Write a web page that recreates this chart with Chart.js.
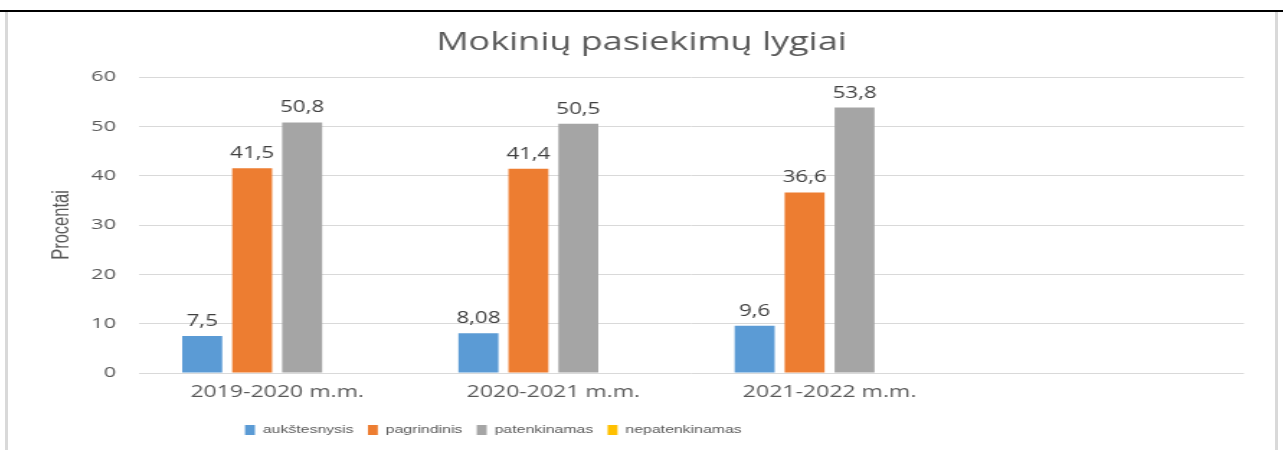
<!DOCTYPE html>
<html lang="lt">
<head>
<meta charset="utf-8">
<title>Mokinių pasiekimų lygiai</title>
<script src="https://cdn.jsdelivr.net/npm/chart.js@4.4.1/dist/chart.umd.min.js"></script>
<style>
  html, body { margin: 0; padding: 0; background: #fff; }
  body { width: 1283px; height: 450px; position: relative; overflow: hidden; }
  .linea_negra { position: absolute; left: 0; top: 10px; width: 1283px; height: 2px; background: #000; }
  .borde { position: absolute; top: 12px; width: 3px; height: 438px; background: #d9d9d9; }
  /* la imagen original esta estirada a lo ancho */
  #contenedor { position: absolute; left: 8px; top: 12px; width: 880px; height: 438px;
                transform: scaleX(1.4398); transform-origin: 0 0; }
</style>
</head>
<body>
<div class="linea_negra"></div>
<div class="borde" style="left:5px"></div>
<div class="borde" style="left:1275px"></div>
<div id="contenedor"><canvas id="barrasChart"></canvas></div>

<script>
// datos del grafico
const categorias = ['2019-2020 m.m.', '2020-2021 m.m.', '2021-2022 m.m.', ''];
const aukstesnysis = [7.5, 8.08, 9.6, null];
const pagrindinis = [41.5, 41.4, 36.6, null];
const patenkinamas = [50.8, 50.5, 53.8, null];
const nepatenkinamas = [null, null, null, null];
const ticks_y = [0, 10, 20, 30, 40, 50, 60];

const gris_texto = '#595959';

// etiquetas encima de cada barra
const etiquetasBarras = {
    id: 'etiquetasBarras',
    afterDatasetsDraw(chart) {
        const ctx = chart.ctx;
        ctx.save();
        ctx.font = '15.5px "Open Sans"';
        ctx.fillStyle = '#404040';
        ctx.textAlign = 'center';
        ctx.textBaseline = 'alphabetic';
        chart.data.datasets.forEach((ds, i) => {
            const meta = chart.getDatasetMeta(i);
            meta.data.forEach((bar, j) => {
                const v = ds.data[j];
                if (v === null || v === undefined) return;
                ctx.fillText(String(v).replace('.', ','), bar.x, bar.y - 10);
            });
        });
        ctx.restore();
    }
};

// mueve la leyenda a la izquierda como en el original
const leyendaIzq = {
    id: 'leyendaIzq',
    afterUpdate(chart) {
        if (chart.legend) {
            chart.legend.left = 154.6;
            chart.legend.adjustHitBoxes();
        }
    }
};

function grafica_barras() {
    const data = {
        labels: categorias,
        datasets: [
            { label: 'aukštesnysis', data: aukstesnysis, backgroundColor: '#5B9BD5' },
            { label: 'pagrindinis', data: pagrindinis, backgroundColor: '#ED7D31' },
            { label: 'patenkinamas', data: patenkinamas, backgroundColor: '#A5A5A5' },
            { label: 'nepatenkinamas', data: nepatenkinamas, backgroundColor: '#FFC000' }
        ]
    };

    const config = {
        type: 'bar',
        data: data,
        options: {
            responsive: true,
            maintainAspectRatio: false,
            animation: false,
            datasets: {
                bar: { categoryPercentage: 0.7235, barPercentage: 0.8, borderWidth: 0 }
            },
            layout: { padding: { left: 21.6, right: 21.6, top: 0, bottom: 4.5 } },
            scales: {
                x: {
                    grid: { display: false },
                    border: { display: false },
                    ticks: {
                        color: gris_texto,
                        padding: 2,
                        font: { family: 'Open Sans', size: 16 },
                        maxRotation: 0,
                        autoSkip: false
                    },
                    afterFit(scale) { scale.height = 41.5; }
                },
                y: {
                    min: ticks_y[0],
                    max: ticks_y[ticks_y.length - 1],
                    afterBuildTicks(scale) { scale.ticks = ticks_y.map(v => ({ value: v })); },
                    grid: { color: '#D9D9D9', lineWidth: 1, drawTicks: false },
                    border: { display: false },
                    ticks: {
                        color: gris_texto,
                        padding: 16,
                        font: { family: 'Open Sans', size: 15 }
                    },
                    title: {
                        display: true,
                        text: 'Procentai',
                        color: gris_texto,
                        font: { family: 'Liberation Sans', size: 16.5 },
                        padding: { top: 6, bottom: 0 }
                    },
                    afterFit(scale) { scale.width = 69.4; }
                }
            },
            plugins: {
                title: {
                    display: true,
                    text: 'Mokinių pasiekimų lygiai',
                    color: gris_texto,
                    font: { family: 'Open Sans', size: 25, weight: 'normal' },
                    padding: { top: 16, bottom: 19 }
                },
                legend: {
                    position: 'bottom',
                    align: 'start',
                    labels: {
                        color: gris_texto,
                        boxWidth: 6.9,
                        boxHeight: 10,
                        padding: 10,
                        font: { family: 'Liberation Sans', size: 11 }
                    }
                },
                tooltip: { enabled: false }
            }
        },
        plugins: [etiquetasBarras, leyendaIzq]
    };

    const ctx = document.getElementById('barrasChart').getContext('2d');
    window.barrasChartInstance = new Chart(ctx, config);
}

grafica_barras();
</script>
</body>
</html>
